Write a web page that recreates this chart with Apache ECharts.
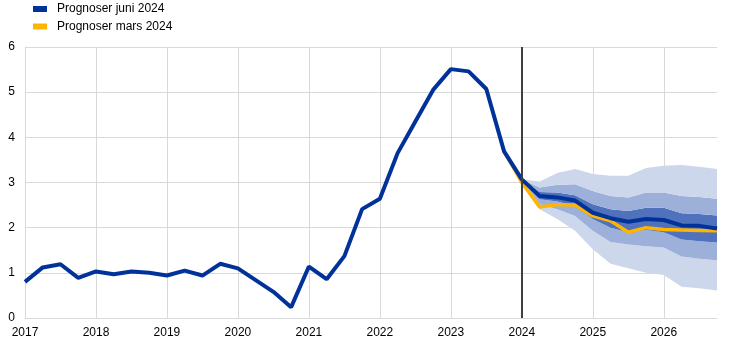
<!DOCTYPE html>
<html>
<head>
<meta charset="utf-8">
<script src="https://cdn.jsdelivr.net/npm/echarts@6/dist/echarts.min.js"></script>
<style>
html,body{margin:0;padding:0;background:#fff;}
#chart{width:744px;height:345px;}
</style>
</head>
<body>
<div id="chart"></div>
<script>
// Quarterly categories 2017Q1 .. 2026Q4
const years = [2017,2018,2019,2020,2021,2022,2023,2024,2025,2026];
const quarters = [];
years.forEach(y => { for (let q = 1; q <= 4; q++) quarters.push(y + 'K' + q); });

const juneName = 'Prognoser juni 2024';
const marchName = 'Prognoser mars 2024';

// June 2024 projection (history + projection), one value per quarter
const juneValues = [
  0.80, 1.12, 1.19, 0.89,
  1.03, 0.97, 1.03, 1.00,
  0.94, 1.05, 0.94, 1.20,
  1.10, 0.84, 0.58, 0.24,
  1.14, 0.86, 1.37, 2.41,
  2.64, 3.65, 4.35, 5.05,
  5.51, 5.46, 5.07, 3.69,
  3.07, 2.70, 2.67, 2.60,
  2.33, 2.21, 2.13, 2.19,
  2.17, 2.05, 2.04, 1.98
];

// March 2024 projection (only from 2023K4)
const marchValues = [
  null,null,null,null, null,null,null,null, null,null,null,null,
  null,null,null,null, null,null,null,null, null,null,null,null,
  null,null,null,3.69,
  3.00, 2.46, 2.51, 2.50,
  2.26, 2.15, 1.90, 2.00,
  1.96, 1.95, 1.94, 1.93
];

// Uncertainty bands, from 2024K1 (index 28) to 2026K4
const outerHigh = [3.07, 3.02, 3.21, 3.30, 3.19, 3.15, 3.15, 3.32, 3.37, 3.39, 3.35, 3.30];
const midHigh   = [3.07, 2.89, 2.95, 2.96, 2.81, 2.70, 2.67, 2.78, 2.78, 2.70, 2.68, 2.64];
const darkHigh  = [3.07, 2.79, 2.78, 2.72, 2.52, 2.41, 2.37, 2.44, 2.44, 2.32, 2.30, 2.27];
const darkLow   = [3.07, 2.63, 2.58, 2.48, 2.19, 2.00, 1.90, 1.95, 1.90, 1.74, 1.70, 1.67];
const midLow    = [3.07, 2.52, 2.41, 2.26, 1.93, 1.68, 1.63, 1.59, 1.56, 1.36, 1.31, 1.28];
const outerLow  = [3.07, 2.41, 2.19, 1.93, 1.52, 1.20, 1.10, 1.00, 0.95, 0.69, 0.66, 0.61];

const yTicks = [0, 6, 1]; // min, max, interval
const projStart = 28; // index of 2024K1

function pad(arr) {
  const out = new Array(projStart).fill(null);
  return out.concat(arr);
}
function diff(a, b) { return a.map((v, i) => +(v - b[i]).toFixed(3)); }

const lightC = '#cdd7ec';
const midC = '#9cb0da';
const darkC = '#5072bd';

function band(name, data, color) {
  return {
    name: name, type: 'line', stack: 'fan', data: pad(data),
    symbol: 'none', lineStyle: { width: 0, opacity: 0 },
    areaStyle: color ? { color: color, opacity: 1 } : { opacity: 0 },
    silent: true, z: 1
  };
}

const chart = echarts.init(document.getElementById('chart'), null, { renderer: 'canvas' });
chart.setOption({
  animation: false,
  textStyle: { fontFamily: 'Liberation Sans, Arial, sans-serif' },
  legend: {
    data: [juneName, marchName],
    orient: 'vertical', left: 28, top: -2,
    icon: 'rect', itemWidth: 14, itemHeight: 6, itemGap: 5.5,
    textStyle: { fontSize: 12, color: '#000', padding: [0, 0, 0, 5], fontFamily: 'Liberation Sans, Arial, sans-serif' }
  },
  grid: { left: 25, right: 27, top: 47, bottom: 27, containLabel: false },
  xAxis: {
    type: 'category', data: quarters, boundaryGap: false,
    axisLine: { show: true, lineStyle: { color: '#d9d9d9', width: 1 } },
    axisTick: { show: false },
    axisLabel: {
      interval: 0, fontSize: 12, color: '#000', margin: 9,
      formatter: (v, i) => (i % 4 === 0 ? v.slice(0, 4) : '')
    },
    splitLine: {
      show: true, interval: (i) => i % 4 === 0 && i > 0,
      lineStyle: { color: '#d9d9d9', width: 1 }
    }
  },
  yAxis: {
    type: 'value', min: yTicks[0], max: yTicks[1], interval: yTicks[2],
    axisLine: { show: true, lineStyle: { color: '#d9d9d9' } },
    axisTick: { show: false },
    axisLabel: { fontSize: 12, color: '#000', margin: 10 },
    splitLine: { show: true, lineStyle: { color: '#d9d9d9', width: 1 } }
  },
  series: [
    band('b0', outerLow, null),
    band('b1', diff(midLow, outerLow), lightC),
    band('b2', diff(darkLow, midLow), midC),
    band('b3', diff(darkHigh, darkLow), darkC),
    band('b4', diff(midHigh, darkHigh), midC),
    band('b5', diff(outerHigh, midHigh), lightC),
    {
      name: marchName, type: 'line', data: marchValues, symbol: 'none',
      lineStyle: { color: '#ffb400', width: 3.5 }, itemStyle: { color: '#ffb400' }, z: 3
    },
    {
      name: juneName, type: 'line', data: juneValues, symbol: 'none',
      lineStyle: { color: '#003299', width: 4 }, itemStyle: { color: '#003299' }, z: 4,
      markLine: {
        silent: true, symbol: 'none', label: { show: false },
        lineStyle: { color: '#404040', width: 2, type: 'solid' },
        data: [{ xAxis: projStart }]
      }
    }
  ]
});
</script>
</body>
</html>
